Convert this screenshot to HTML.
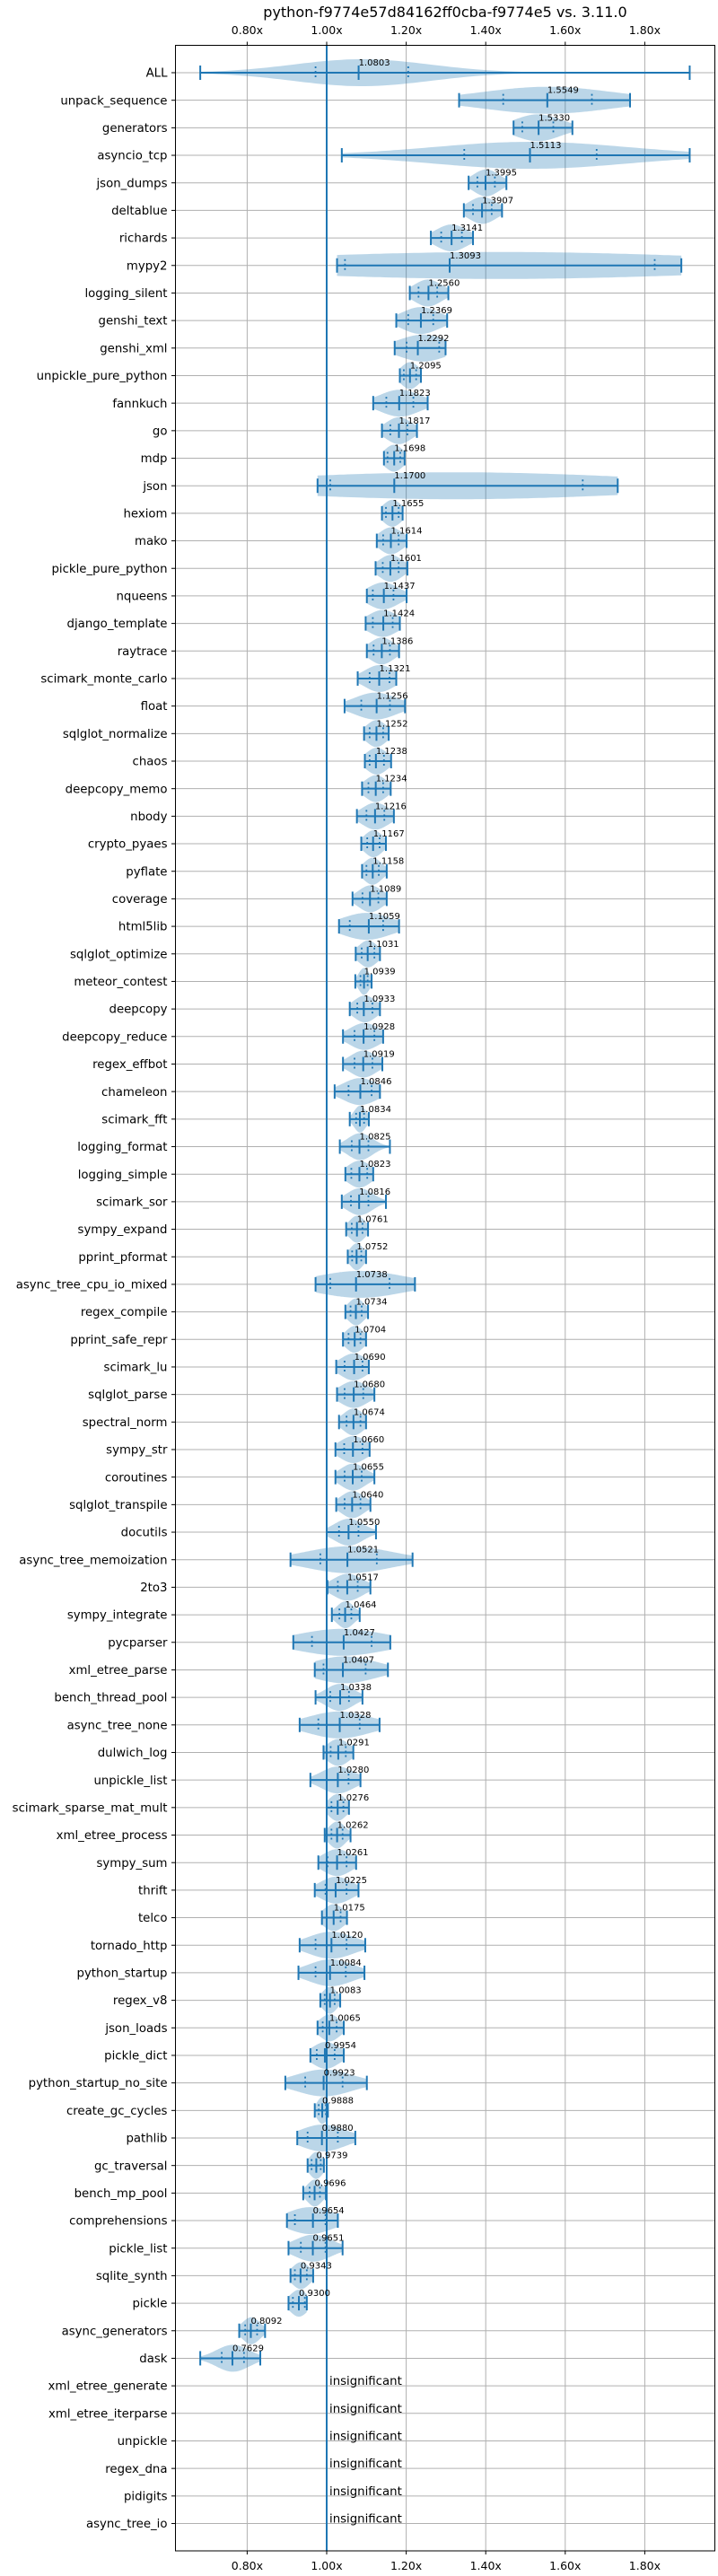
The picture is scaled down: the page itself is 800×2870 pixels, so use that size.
<!DOCTYPE html>
<html><head><meta charset="utf-8">
<style>
html,body{margin:0;padding:0;background:#fff;}
svg{display:block;font-family:"DejaVu Sans","Liberation Sans",sans-serif;}
</style></head>
<body>
<svg id="chart" width="800" height="2870" viewBox="0 0 800 2870" xmlns="http://www.w3.org/2000/svg">
<text x="496" y="19" font-size="16" text-anchor="middle" fill="#000">python-f9774e57d84162ff0cba-f9774e5 vs. 3.11.0</text>
<g id="grid"></g><g id="violins"></g><g id="marks"></g><g id="labels"></g>
<rect x="195.5" y="50.5" width="601" height="2791.5" fill="none" stroke="#000" stroke-width="1"/>
</svg>
<script>
const names=["ALL","unpack_sequence","generators","asyncio_tcp","json_dumps","deltablue","richards","mypy2","logging_silent","genshi_text","genshi_xml","unpickle_pure_python","fannkuch","go","mdp","json","hexiom","mako","pickle_pure_python","nqueens","django_template","raytrace","scimark_monte_carlo","float","sqlglot_normalize","chaos","deepcopy_memo","nbody","crypto_pyaes","pyflate","coverage","html5lib","sqlglot_optimize","meteor_contest","deepcopy","deepcopy_reduce","regex_effbot","chameleon","scimark_fft","logging_format","logging_simple","scimark_sor","sympy_expand","pprint_pformat","async_tree_cpu_io_mixed","regex_compile","pprint_safe_repr","scimark_lu","sqlglot_parse","spectral_norm","sympy_str","coroutines","sqlglot_transpile","docutils","async_tree_memoization","2to3","sympy_integrate","pycparser","xml_etree_parse","bench_thread_pool","async_tree_none","dulwich_log","unpickle_list","scimark_sparse_mat_mult","xml_etree_process","sympy_sum","thrift","telco","tornado_http","python_startup","regex_v8","json_loads","pickle_dict","python_startup_no_site","create_gc_cycles","pathlib","gc_traversal","bench_mp_pool","comprehensions","pickle_list","sqlite_synth","pickle","async_generators","dask","xml_etree_generate","xml_etree_iterparse","unpickle","regex_dna","pidigits","async_tree_io"];
const means=[1.0803,1.5549,1.5330,1.5113,1.3995,1.3907,1.3141,1.3093,1.2560,1.2369,1.2292,1.2095,1.1823,1.1817,1.1698,1.1700,1.1655,1.1614,1.1601,1.1437,1.1424,1.1386,1.1321,1.1256,1.1252,1.1238,1.1234,1.1216,1.1167,1.1158,1.1089,1.1059,1.1031,1.0939,1.0933,1.0928,1.0919,1.0846,1.0834,1.0825,1.0823,1.0816,1.0761,1.0752,1.0738,1.0734,1.0704,1.0690,1.0680,1.0674,1.0660,1.0655,1.0640,1.0550,1.0521,1.0517,1.0464,1.0427,1.0407,1.0338,1.0328,1.0291,1.0280,1.0276,1.0262,1.0261,1.0225,1.0175,1.0120,1.0084,1.0083,1.0065,0.9954,0.9923,0.9888,0.9880,0.9739,0.9696,0.9654,0.9651,0.9343,0.9300,0.8092,0.7629,null,null,null,null,null,null];
const mins=[0.682,1.333,1.470,1.038,1.357,1.345,1.262,1.026,1.209,1.175,1.171,1.184,1.117,1.139,1.144,0.977,1.139,1.126,1.123,1.101,1.098,1.101,1.078,1.045,1.094,1.096,1.089,1.076,1.087,1.089,1.065,1.031,1.073,1.072,1.058,1.041,1.041,1.020,1.058,1.033,1.047,1.038,1.049,1.053,0.972,1.047,1.041,1.024,1.026,1.031,1.022,1.022,1.024,1.000,0.909,1.002,1.013,0.916,0.970,0.972,0.932,0.992,0.959,1.000,0.995,0.979,0.970,0.988,0.932,0.929,0.984,0.977,0.959,0.896,0.970,0.926,0.952,0.941,0.900,0.904,0.909,0.904,0.780,0.682,null,null,null,null,null,null];
const maxs=[1.913,1.763,1.618,1.913,1.452,1.441,1.368,1.892,1.306,1.303,1.299,1.237,1.254,1.227,1.196,1.732,1.191,1.201,1.203,1.201,1.184,1.182,1.175,1.197,1.156,1.162,1.161,1.169,1.149,1.151,1.151,1.182,1.134,1.113,1.134,1.142,1.140,1.134,1.106,1.159,1.117,1.149,1.104,1.099,1.222,1.104,1.099,1.106,1.120,1.099,1.108,1.120,1.110,1.124,1.216,1.110,1.083,1.160,1.154,1.090,1.133,1.067,1.085,1.056,1.060,1.074,1.080,1.051,1.097,1.095,1.034,1.043,1.043,1.101,1.003,1.072,0.993,0.998,1.028,1.040,0.966,0.950,0.845,0.833,null,null,null,null,null,null];
const q1s=[0.972,1.444,1.492,1.346,1.379,1.368,1.288,1.046,1.231,1.205,1.201,1.194,1.150,1.160,1.153,1.009,1.149,1.142,1.141,1.116,1.116,1.118,1.108,1.087,1.108,1.108,1.105,1.100,1.102,1.100,1.090,1.058,1.088,1.085,1.077,1.070,1.070,1.055,1.074,1.063,1.062,1.061,1.063,1.064,1.009,1.060,1.055,1.045,1.045,1.050,1.044,1.045,1.045,1.031,0.984,1.028,1.032,0.963,0.992,1.009,0.979,1.010,1.000,1.012,1.012,1.002,0.997,1.000,0.972,0.972,0.995,0.990,0.975,0.946,0.980,0.952,0.962,0.957,0.920,0.935,0.920,0.915,0.795,0.736,null,null,null,null,null,null];
const q3s=[1.205,1.667,1.570,1.679,1.423,1.415,1.340,1.825,1.278,1.268,1.283,1.225,1.218,1.203,1.185,1.644,1.181,1.181,1.181,1.168,1.166,1.159,1.158,1.159,1.142,1.144,1.142,1.145,1.133,1.131,1.130,1.142,1.120,1.103,1.115,1.120,1.115,1.113,1.094,1.105,1.102,1.105,1.090,1.087,1.158,1.088,1.085,1.090,1.092,1.085,1.090,1.088,1.085,1.080,1.126,1.078,1.062,1.113,1.098,1.056,1.083,1.048,1.055,1.042,1.040,1.050,1.050,1.035,1.050,1.048,1.020,1.025,1.020,1.040,0.998,1.028,0.985,0.983,0.997,0.997,0.950,0.945,0.825,0.792,null,null,null,null,null,null];
const xTicks=[0.8,1.0,1.2,1.4,1.6,1.8];
const xTickLabels=["0.80x","1.00x","1.20x","1.40x","1.60x","1.80x"];

const NS="http://www.w3.org/2000/svg";
const X0=364, PX=443, Y0=81, ROW=30.68, PL=195.5, PR=796.5, PT=50.5, PB=2842;
function xs(v){return X0+(v-1)*PX;}
function ys(i){return Y0+i*ROW;}
function mk(tag,attrs,parent){const e=document.createElementNS(NS,tag);for(const k in attrs)e.setAttribute(k,attrs[k]);parent.appendChild(e);return e;}
const grid=document.getElementById('grid'),vio=document.getElementById('violins'),marks=document.getElementById('marks'),labels=document.getElementById('labels');
const C="#1f77b4";

xTicks.forEach((t,i)=>{
  const x=xs(t);
  const g=mk('line',{x1:x,x2:x,y1:PT,y2:PB,stroke:"#b0b0b0","stroke-width":1},grid);
  
  
  mk('line',{x1:x,x2:x,y1:PT,y2:PT-4,stroke:"#000","stroke-width":1},grid);
  mk('line',{x1:x,x2:x,y1:PB,y2:PB+4,stroke:"#000","stroke-width":1},grid);
  const a=mk('text',{x:x,y:38,"font-size":12.5,"text-anchor":"middle",fill:"#000"},labels);
  a.textContent=xTickLabels[i];
  
  
  const b=mk('text',{x:x,y:2863,"font-size":12.5,"text-anchor":"middle",fill:"#000"},labels);
  b.textContent=xTickLabels[i];
  
  
});
names.forEach((n,i)=>{
  const y=ys(i);
  const g=mk('line',{x1:PL,x2:PR,y1:y,y2:y,stroke:"#b0b0b0","stroke-width":1},grid);
  
  
  mk('line',{x1:PL-4.5,x2:PL,y1:y,y2:y,stroke:"#000","stroke-width":1},grid);
  const t=mk('text',{x:PL-9,y:y+4.6,"font-size":13.3,"text-anchor":"end",fill:"#000"},labels);
  t.textContent=n;
  
  
});
const ref=mk('line',{x1:xs(1),x2:xs(1),y1:PT,y2:PB,stroke:C,"stroke-width":2},marks);



names.forEach((n,i)=>{
  const y=ys(i);
  if(means[i]===null){
    const t=mk('text',{x:xs(1)+3,y:y-1,"font-size":13.3,fill:"#000"},labels);
    t.textContent="insignificant";
    
    
    return;
  }
  const mn=mins[i],mx=maxs[i],a=q1s[i],b=q3s[i],m=means[i];
  const c=(a+b)/2;
  const s=Math.max((b-a)/1.35,0.004);
  const N=80,pts=[];let dmax=0;
  for(let k=0;k<=N;k++){const v=mn+(mx-mn)*k/N;const d=Math.exp(-0.5*((v-c)/s)**2);pts.push([v,d]);if(d>dmax)dmax=d;}
  let top=pts.map(p=>xs(p[0]).toFixed(1)+","+(y-15*p[1]/dmax).toFixed(1));
  let bot=pts.slice().reverse().map(p=>xs(p[0]).toFixed(1)+","+(y+15*p[1]/dmax).toFixed(1));
  const vp=mk('polygon',{points:top.concat(bot).join(" "),fill:C,"fill-opacity":0.3,stroke:"none"},vio);
  
  
  const hl=mk('line',{x1:xs(mn),x2:xs(mx),y1:y,y2:y,stroke:C,"stroke-width":2},marks);
  
  
  [mn,mx,m].forEach(v=>{
    const cl=mk('line',{x1:xs(v),x2:xs(v),y1:y-8,y2:y+8,stroke:C,"stroke-width":2},marks);
    
    
  });
  [a,b].forEach(v=>{
    const cl=mk('line',{x1:xs(v),x2:xs(v),y1:y-7,y2:y+7,stroke:C,"stroke-width":1.8,"stroke-dasharray":"2,3"},marks);
    
    
  });
  const t=mk('text',{x:xs(m),y:y-8,"font-size":10,fill:"#000"},labels);
  t.textContent=m.toFixed(4);
  
  
});
</script>
</body></html>
